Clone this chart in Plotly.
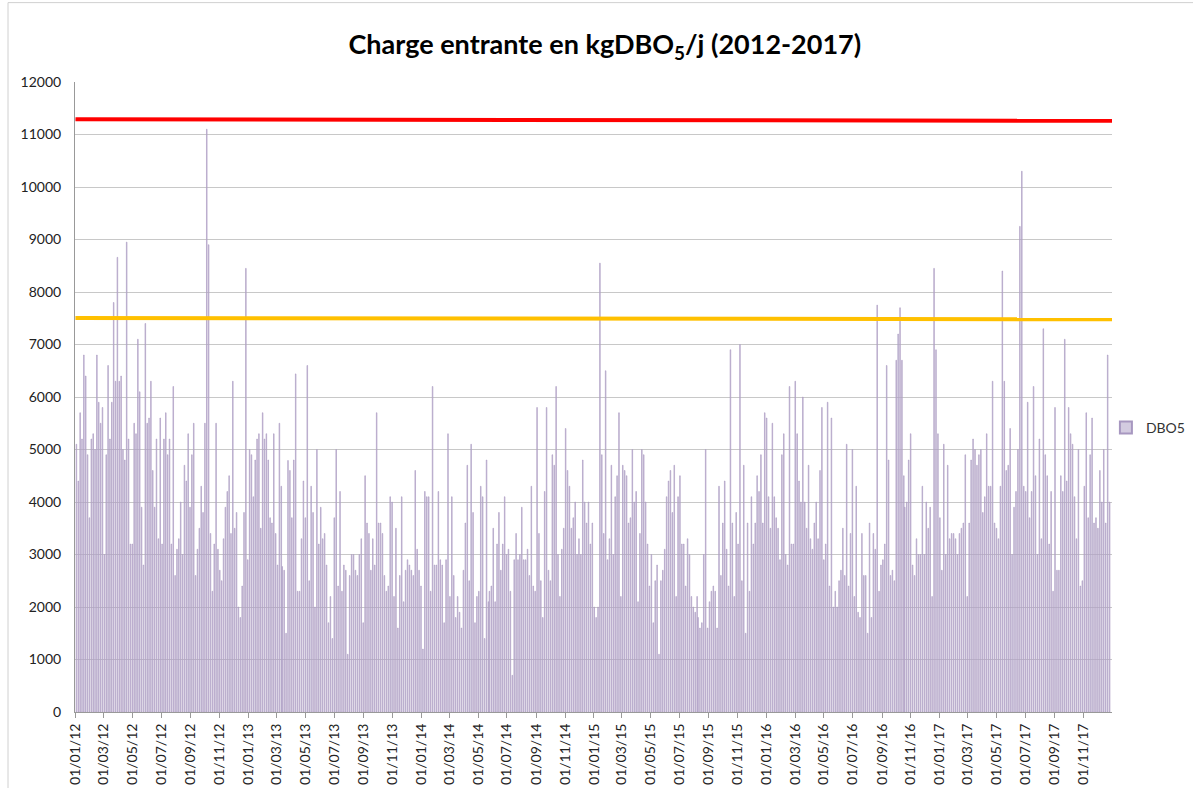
import pandas as pd
import plotly.graph_objects as go

# ---- data (kgDBO5/j) ----
seg1_period = ["2012-01-03", "2013-03-11"]
seg1 = [5100, 4400, 5700, 5200, 6800, 6400, 4900, 3700, 5200, 5300, 5000, 6800, 5900, 5500, 5800, 3000,
        4900, 6600, 5200, 5900, 7800, 6300, 8660, 6300, 6400, 5000, 4800, 8950, 5200, 3200, 3200, 5500,
        5300, 7100, 6100, 3900, 2800, 7400, 5500, 5600, 6300, 4600, 3900, 5200, 3300, 5600, 3200, 5200,
        5700, 4900, 5200, 3200, 6200, 2600, 3100, 3300, 4000, 3000, 4700, 4400, 5300, 3900, 4900, 5500,
        2600, 3100, 3500, 4300, 3800, 5500, 11100, 8900, 3400, 2300, 3200, 5500, 3100, 2700, 2500, 3300,
        3900, 4200, 4500, 3400, 6300, 3500, 3800, 2000, 1800, 2400, 3800, 8450, 2900, 5000, 4900, 4100,
        4800, 5200, 5300, 3500, 5700, 5200, 5300, 4800, 3700, 3600, 5300, 3400, 2800, 5500, 4300]

seg2_period = ["2013-03-13", "2014-05-23"]
seg2 = [2770, 2700, 1500, 4790, 4600, 3700, 4800, 6440, 2300, 2300, 3300, 4400, 3700, 6600, 2500, 4300,
        3800, 2000, 5000, 3200, 3900, 3300, 3400, 2800, 1700, 2200, 1400, 3700, 5000, 2400, 4200, 2300,
        2800, 2700, 1100, 2600, 3000, 3000, 2700, 2600, 3000, 3300, 1700, 4500, 3600, 3400, 2700, 3300,
        2800, 5700, 3600, 3600, 3400, 2600, 2300, 2400, 4100, 4000, 2200, 3500, 1600, 2600, 4100, 2100,
        2700, 2900, 2800, 2700, 2600, 4600, 3100, 2700, 2400, 1200, 4200, 4100, 4100, 2300, 6200, 2800,
        2800, 4200, 2900, 2800, 1700, 2900, 5300, 2200, 4100, 2600, 1800, 2200, 1900, 1600, 2700, 3600,
        4700, 2500, 5100, 3800, 1700, 2200, 2300, 4300, 4100, 1400, 4800, 2100]

seg3_period = ["2014-05-25", "2015-08-07"]
seg3 = [2300, 2400, 3500, 2100, 3200, 3800, 2700, 3200, 4100, 3000, 3100, 2300, 700, 2900, 3400, 2900,
        3000, 3900, 2900, 2900, 3100, 2600, 4300, 2400, 2300, 5800, 3400, 2500, 1800, 4200, 5800, 2700,
        2500, 4900, 4700, 6200, 3000, 2200, 3100, 3500, 5400, 4600, 4300, 3500, 3700, 4000, 3000, 3300,
        3000, 4800, 4000, 3600, 4000, 3200, 3600, 2000, 1800, 2000, 8550, 4900, 3400, 6500, 2900, 3300,
        4700, 3000, 4100, 4500, 5700, 2200, 4700, 4600, 4500, 3600, 3700, 5000, 4000, 4200, 2100, 3400,
        5000, 4900, 4000, 3200, 2400, 3000, 1700, 2500, 2800, 1100, 2500, 2700, 3100, 4100, 4400, 4600,
        3800, 4700, 2200, 4100, 4500, 3200, 3200, 2400, 3300, 3000, 2200, 2000, 1900, 2200]

seg4_period = ["2015-08-09", "2016-10-17"]
seg4 = [1800, 1600, 1700, 3000, 5000, 1600, 2100, 2300, 2400, 2300, 1600, 4300, 2600, 3600, 4400, 3100,
        2400, 6900, 3600, 2200, 3800, 3200, 7000, 2500, 4700, 1500, 3600, 2300, 4100, 3200, 3600, 4500,
        4200, 4900, 3600, 5700, 5600, 4100, 3500, 5500, 4100, 3700, 3500, 2900, 4900, 5300, 3000, 2800,
        6200, 3200, 3200, 6300, 5300, 4400, 4000, 6000, 4000, 3500, 4700, 3300, 3100, 3600, 4000, 3300,
        4600, 5800, 2900, 3200, 5900, 2400, 5600, 2000, 2300, 2000, 2500, 2700, 3500, 2600, 5100, 2400,
        3400, 5000, 2200, 4300, 1900, 1800, 3400, 2600, 2600, 1500, 3600, 1800, 3400, 3100, 7750, 2300,
        2800, 2900, 3200, 6600, 4800, 2600, 2700, 2500, 6700, 7200, 7700, 6700, 4500]

seg5_period = ["2016-10-19", "2017-12-26"]
seg5 = [3900, 4000, 4800, 5300, 2800, 2600, 3300, 3000, 3000, 4300, 3000, 4000, 3500, 3900, 2200, 8450,
        6900, 5300, 3700, 2700, 5100, 3000, 4700, 3300, 3400, 3400, 3300, 3000, 3400, 3500, 3600, 4900,
        2200, 3600, 4800, 5200, 5000, 4700, 4900, 5000, 3800, 4100, 5300, 4300, 4300, 6300, 3600, 3500,
        3300, 4300, 8400, 6300, 4600, 4700, 5400, 3000, 3900, 4200, 5000, 9250, 10300, 4300, 4200, 5900,
        3700, 4200, 6200, 4500, 3000, 5200, 3300, 7300, 4900, 4500, 3200, 4200, 2300, 5800, 2700, 2700,
        4500, 4200, 7100, 4400, 5800, 5300, 5100, 4100, 3300, 5000, 2400, 2500, 4300, 5700, 3700, 4900,
        5600, 3600, 3700, 3500, 4600, 4000, 5000, 3600, 6800, 4000]

# reference levels (horizontal lines)
limit_dates = ["2012-01-01", "2017-12-31"]
red_level = [11290, 11260]
orange_level = [7505, 7480]

tick_dates = pd.date_range("2012-01-01", "2017-11-01", freq="2MS")
tick_labels = [d.strftime("%d/%m/%y") for d in tick_dates]

# ---- build x positions per sampling period ----
xs, ys = [], []
for period, vals in [(seg1_period, seg1), (seg2_period, seg2), (seg3_period, seg3),
                     (seg4_period, seg4), (seg5_period, seg5)]:
    d = pd.date_range(period[0], period[1], periods=len(vals))
    xs.extend(list(d))
    ys.extend(vals)

fig = go.Figure()
fig.add_trace(go.Bar(
    x=xs, y=ys, name="DBO5",
    marker=dict(color="#d3cbe0", line=dict(color="#a797c0", width=0.6)),
))
fig.add_trace(go.Scatter(x=limit_dates, y=red_level, mode="lines",
                         line=dict(color="#ff0000", width=4), showlegend=False, hoverinfo="skip"))
fig.add_trace(go.Scatter(x=limit_dates, y=orange_level, mode="lines",
                         line=dict(color="#ffc000", width=4), showlegend=False, hoverinfo="skip"))

font_family = "Lato, 'Open Sans', sans-serif"
fig.update_layout(
    width=1193, height=788,
    paper_bgcolor="white", plot_bgcolor="white",
    margin=dict(l=75, r=81, t=82, b=76, autoexpand=False),
    bargap=0.35,
    font=dict(family=font_family, color="#222222", size=14),
    title=dict(text="<b>Charge entrante en kgDBO<sub>5</sub>/j (2012-2017)</b>",
               x=0.507, xref="container", y=0.943, yref="container",
               xanchor="center", yanchor="middle",
               font=dict(family=font_family, size=27, color="#000000")),
    legend=dict(x=0.927, y=0.457, xref="container", yref="container",
                xanchor="left", yanchor="middle", itemwidth=30,
                font=dict(size=14, color="#333333"), bgcolor="rgba(0,0,0,0)",
                itemsizing="constant"),
    xaxis=dict(type="date", range=["2011-12-31", "2017-12-31"], automargin=False,
               tickmode="array", tickvals=list(tick_dates), ticktext=tick_labels,
               tickangle=-90, ticks="outside", ticklen=5, tickcolor="#999999",
               showline=True, linecolor="#999999", linewidth=1, showgrid=False,
               tickfont=dict(size=14, color="#222222")),
    yaxis=dict(range=[0, 12000], dtick=1000, tickformat="d", automargin=False,
               showgrid=True, gridcolor="#c8c8c8", gridwidth=1,
               showline=True, linecolor="#999999", linewidth=1, zeroline=False,
               ticks="", tickfont=dict(size=14, color="#222222"), ticklabelstandoff=10),
    shapes=[dict(type="rect", xref="paper", yref="paper",
                 x0=-0.0646, x1=1.09, y0=-0.13, y1=1.126,
                 line=dict(color="#d0d0d0", width=1), fillcolor="rgba(0,0,0,0)", layer="below")],
)

fig.write_html("out.html", config={"displayModeBar": False},
               post_script="document.body.style.margin='0';")
